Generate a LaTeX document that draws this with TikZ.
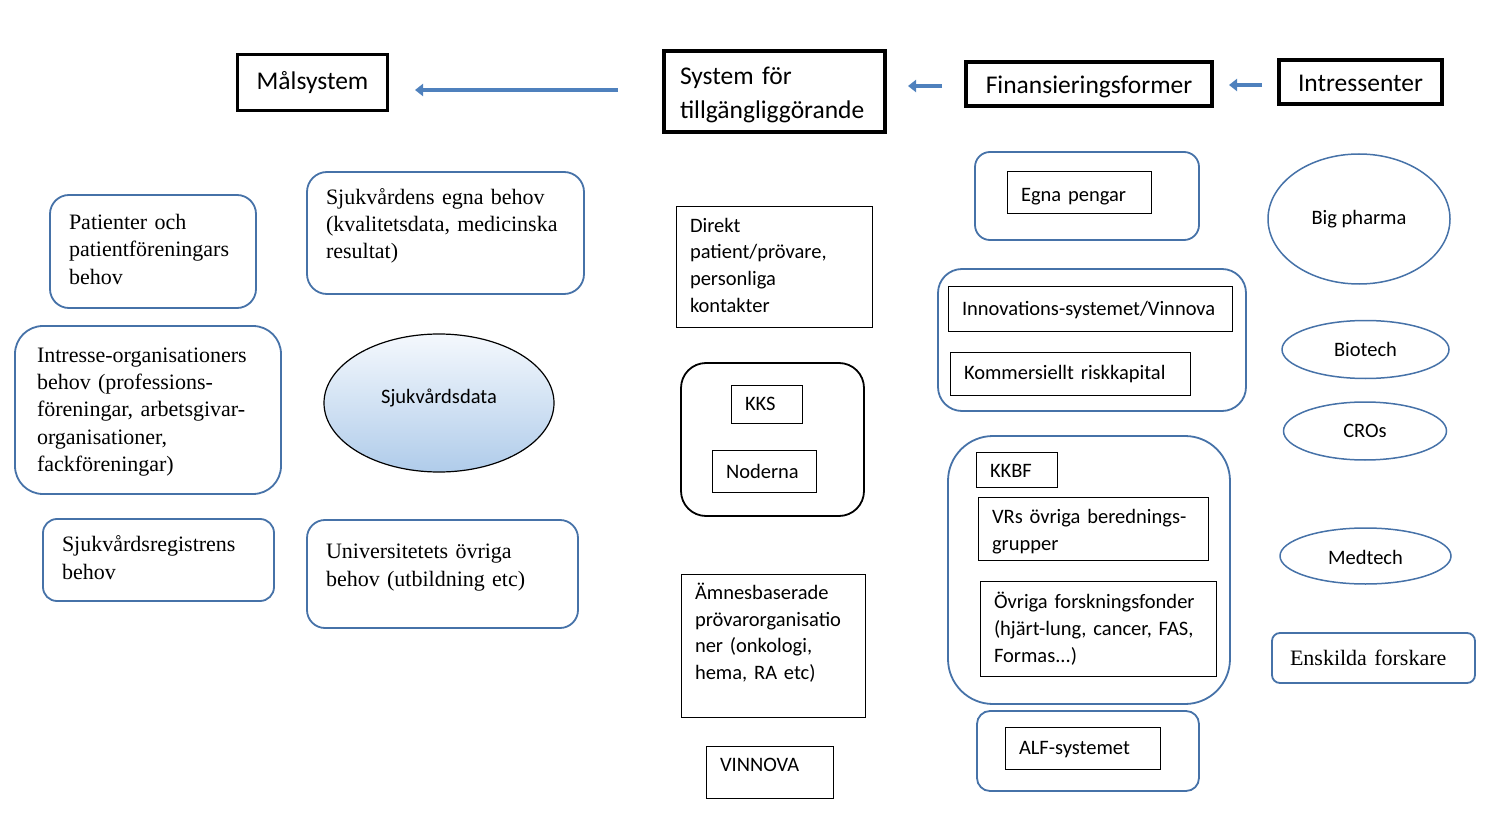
\documentclass[tikz,border=0pt]{standalone}
\usepackage{fontspec}
\setmainfont{Carlito}
\newfontfamily\serifface{Liberation Serif}
\usetikzlibrary{arrows.meta,shapes.geometric}
\definecolor{boxblue}{RGB}{70,114,168}
\definecolor{arrowblue}{RGB}{79,129,189}
\definecolor{datatop}{RGB}{244,248,253}
\definecolor{databottom}{RGB}{176,204,234}
\newcommand{\hdfont}{\fontsize{25.5}{34}\selectfont}
\newcommand{\smfont}{\fontsize{20.5}{26.8}\selectfont}
\newcommand{\sefont}{\serifface\fontsize{22}{27.3}\selectfont}
\newcommand{\rows}[1]{\begin{tabular}{@{}l@{}}#1\end{tabular}}

\begin{document}
\begin{tikzpicture}[
    x=1pt, y=-1pt,
    hdbox/.style={draw, line width=3.5pt, inner sep=0pt, font=\hdfont},
    plainbox/.style={draw, line width=1pt, inner xsep=14pt, inner ysep=0pt, align=left, font=\smfont},
    needbox/.style={draw=boxblue, line width=1.8pt, inner xsep=19pt, inner ysep=0pt, align=left, font=\sefont},
    group/.style={draw=boxblue, line width=1.8pt, inner sep=0pt},
    blob/.style={ellipse, draw=boxblue, line width=1.5pt, inner sep=0pt, font=\smfont},
    flow/.style={draw=arrowblue, line width=4pt, -{Triangle[length=8pt,width=12pt]}}
]
\useasboundingbox (0,0) rectangle (1492,821);

% Headers
\node[hdbox, minimum width=150pt, minimum height=56pt] (malsystem) at (312.5,82.5) {Målsystem};
\node[hdbox, align=left, text width=189pt, inner xsep=16pt, minimum height=81pt] (system) at (774.5,91.5) {\rows{\rule{0pt}{31pt}System för\\tillgängliggörande}};
\node[hdbox, minimum width=246pt, minimum height=44pt] (finans) at (1089,84) {\rows{\rule{0pt}{30pt}Finansieringsformer}};
\node[hdbox, minimum width=163pt, minimum height=44pt] (intressenter) at (1360.5,82) {\rows{\rule{0pt}{30pt}Intressenter}};

% Arrows between headers
\coordinate (a1s) at (618,90);
\coordinate (a1e) at (415,90);
\coordinate (a2s) at (942,86);
\coordinate (a2e) at (908,86);
\coordinate (a3s) at (1262,85);
\coordinate (a3e) at (1229,85);
\draw[flow] (a1s) -- (a1e);
\draw[flow] (a2s) -- (a2e);
\draw[flow] (a3s) -- (a3e);

% Malsystem column
\node[needbox, rounded corners=19pt, text width=168pt, minimum height=113pt] (patienter) at (153,251.5) {\rows{Patienter och\\patientföreningars\\behov}};
\node[needbox, rounded corners=20pt, text width=239pt, minimum height=122pt] (egnabehov) at (445.5,233) {\rows{Sjukvårdens egna behov\\(kvalitetsdata, medicinska\\resultat)\\[14pt]}};
\node[needbox, rounded corners=28pt, text width=222pt, inner xsep=22pt, minimum height=168pt] (intresse) at (148,410) {\rows{\rule{0pt}{22pt}Intresse-organisationers\\behov (professions-\\föreningar, arbetsgivar-\\organisationer,\\fackföreningar)}};
\node[ellipse, draw, line width=1.2pt, inner sep=0pt, top color=datatop, bottom color=databottom, minimum width=230pt, minimum height=138pt, font=\smfont] (sjukdata) at (439,403) {\rows{Sjukvårdsdata\\[10pt]}};
\node[needbox, rounded corners=14pt, text width=193pt, minimum height=82pt] (register) at (158.5,560) {\rows{Sjukvårdsregistrens\\behov}};
\node[needbox, rounded corners=18pt, text width=233pt, minimum height=108pt] (univ) at (442.5,574) {\rows{Universitetets övriga\\behov (utbildning etc)\\[14pt]}};

% System for tillgangliggorande column
\node[plainbox, text width=168pt, minimum height=120pt] (direkt) at (774,267) {\rows{Direkt\\patient/prövare,\\personliga\\kontakter}};
\node[draw, line width=1.8pt, rounded corners=25pt, minimum width=183pt, minimum height=153pt] (natverk) at (772.5,439.5) {};
\node[plainbox, text width=43pt, minimum height=38pt] (kks) at (766.5,404) {\rows{\rule{0pt}{22pt}KKS}};
\node[plainbox, text width=76pt, minimum height=42pt] (noderna) at (764,471) {Noderna};
\node[plainbox, text width=156pt, minimum height=143pt] (amnes) at (773,645.5) {\rows{Ämnesbaserade\\prövarorganisatio\\ner (onkologi,\\hema, RA etc)\\[-4pt]\mbox{}}};
\node[plainbox, text width=99pt, minimum height=52pt] (vinnova) at (769.5,772) {\rows{VINNOVA\\[12pt]}};

% Finansieringsformer column
\node[group, rounded corners=15pt, minimum width=224pt, minimum height=88pt] (egnagrp) at (1087,196) {};
\node[plainbox, text width=116pt, minimum height=42pt] (egna) at (1079,193) {\rows{\rule{0pt}{25pt}Egna pengar}};
\node[group, rounded corners=24pt, minimum width=308pt, minimum height=142pt] (innovgrp) at (1092,340) {};
\node[plainbox, text width=256pt, minimum height=44pt] (innov) at (1090,309) {\rows{\rule{0pt}{21pt}Innovations-systemet/Vinnova}};
\node[plainbox, text width=212pt, minimum height=43pt] (kommers) at (1070,373.5) {\rows{\rule{0pt}{21pt}Kommersiellt riskkapital}};
\node[group, rounded corners=45pt, minimum width=282pt, minimum height=268pt] (fondgrp) at (1089,570) {};
\node[plainbox, text width=53pt, minimum height=35pt] (kkbf) at (1016.5,469.5) {\rows{\rule{0pt}{25pt}KKBF}};
\node[plainbox, text width=202pt, minimum height=63pt] (vrs) at (1093,528.5) {\rows{\rule{0pt}{25pt}VRs övriga berednings-\\grupper}};
\node[plainbox, text width=208pt, minimum height=95pt] (ovriga) at (1098,628.5) {\rows{\rule{0pt}{22pt}Övriga forskningsfonder\\(hjärt-lung, cancer, FAS,\\Formas...)}};
\node[group, rounded corners=13pt, minimum width=222pt, minimum height=80pt] (alfgrp) at (1088,751) {};
\node[plainbox, text width=127pt, minimum height=42pt] (alf) at (1082.5,748) {\rows{\rule{0pt}{22pt}ALF-systemet}};

% Intressenter column
\node[blob, minimum width=182pt, minimum height=130pt] (bigpharma) at (1359,219) {Big pharma};
\node[blob, minimum width=167pt, minimum height=58pt] (biotech) at (1365.5,349.5) {Biotech};
\node[blob, minimum width=163pt, minimum height=58pt] (cros) at (1365,431) {CROs};
\node[blob, minimum width=171pt, minimum height=56pt] (medtech) at (1365.5,556) {\rows{\rule{0pt}{25pt}Medtech}};
\node[needbox, rounded corners=8pt, text width=167pt, inner xsep=18pt, minimum height=50pt] (enskilda) at (1373.5,658) {Enskilda forskare};

\end{tikzpicture}
\end{document}
